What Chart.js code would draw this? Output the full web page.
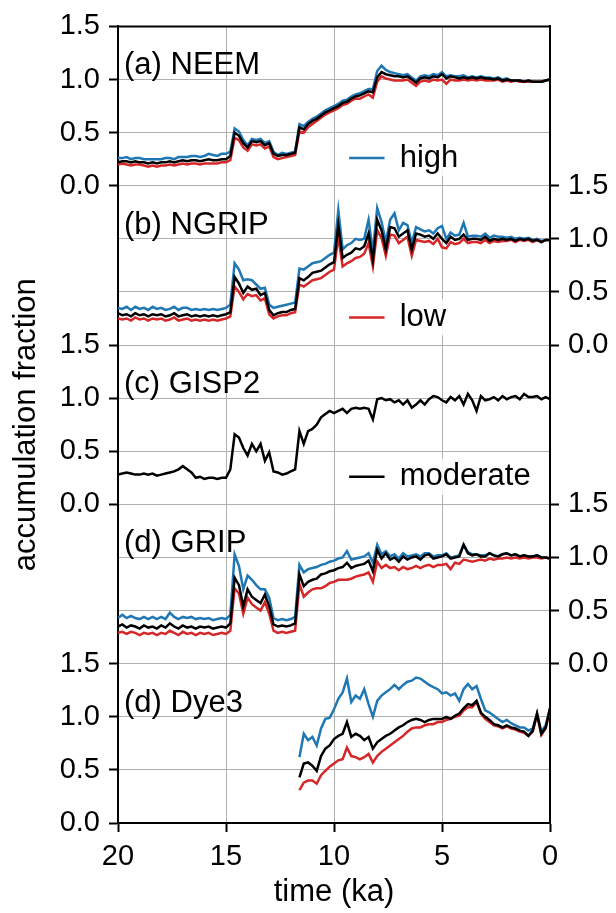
<!DOCTYPE html>
<html>
<head>
<meta charset="utf-8">
<script src="https://cdn.jsdelivr.net/npm/chart.js@4.4.1/dist/chart.umd.min.js"></script>
<style>
  body { margin: 0; background: #fff; }
</style>
</head>
<body>
<canvas id="acc-chart" width="616" height="913"></canvas>
<script>
// time axis (ka), 0.2 ka steps
var time = [20.0, 19.8, 19.6, 19.4, 19.2, 19.0, 18.8, 18.6, 18.4, 18.2,
    18.0, 17.8, 17.6, 17.4, 17.2, 17.0, 16.8, 16.6, 16.4, 16.2,
    16.0, 15.8, 15.6, 15.4, 15.2, 15.0, 14.8, 14.6, 14.4, 14.2,
    14.0, 13.8, 13.6, 13.4, 13.2, 13.0, 12.8, 12.6, 12.4, 12.2,
    12.0, 11.8, 11.6, 11.4, 11.2, 11.0, 10.8, 10.6, 10.4, 10.2,
    10.0, 9.8, 9.6, 9.4, 9.2, 9.0, 8.8, 8.6, 8.4, 8.2,
    8.0, 7.8, 7.6, 7.4, 7.2, 7.0, 6.8, 6.6, 6.4, 6.2,
    6.0, 5.8, 5.6, 5.4, 5.2, 5.0, 4.8, 4.6, 4.4, 4.2,
    4.0, 3.8, 3.6, 3.4, 3.2, 3.0, 2.8, 2.6, 2.4, 2.2,
    2.0, 1.8, 1.6, 1.4, 1.2, 1.0, 0.8, 0.6, 0.4, 0.2,
    0.0];

var xTicks = [20, 15, 10, 5, 0];

var neemHigh = [0.26, 0.26, 0.27, 0.25, 0.26, 0.26, 0.25, 0.25, 0.25, 0.25,
    0.25, 0.26, 0.26, 0.25, 0.27, 0.27, 0.27, 0.28, 0.28, 0.27,
    0.28, 0.30, 0.29, 0.28, 0.30, 0.30, 0.32, 0.54, 0.51, 0.43,
    0.38, 0.44, 0.43, 0.44, 0.40, 0.42, 0.32, 0.29, 0.31, 0.30,
    0.31, 0.32, 0.58, 0.56, 0.60, 0.63, 0.65, 0.68, 0.71, 0.73,
    0.75, 0.77, 0.80, 0.81, 0.84, 0.86, 0.87, 0.89, 0.91, 0.91,
    1.08, 1.13, 1.09, 1.07, 1.06, 1.05, 1.04, 1.05, 1.02, 0.99,
    1.03, 1.04, 1.03, 1.05, 1.04, 1.07, 1.03, 1.04, 1.03, 1.03,
    1.04, 1.02, 1.03, 1.02, 1.03, 1.02, 1.02, 1.01, 1.02, 1.00,
    1.01, 0.99, 0.99, 0.99, 0.98, 0.99, 0.98, 0.98, 0.98, 0.99,
    1.00];
var neemLow = [0.20, 0.21, 0.20, 0.19, 0.20, 0.20, 0.19, 0.18, 0.19, 0.18,
    0.19, 0.19, 0.20, 0.19, 0.20, 0.21, 0.20, 0.21, 0.21, 0.20,
    0.21, 0.21, 0.21, 0.21, 0.22, 0.22, 0.24, 0.45, 0.43, 0.36,
    0.33, 0.39, 0.38, 0.39, 0.35, 0.37, 0.27, 0.25, 0.26, 0.27,
    0.28, 0.29, 0.51, 0.50, 0.55, 0.58, 0.61, 0.64, 0.67, 0.69,
    0.71, 0.73, 0.76, 0.77, 0.80, 0.82, 0.82, 0.84, 0.86, 0.83,
    0.98, 1.03, 1.01, 1.00, 0.99, 0.99, 0.99, 1.00, 0.97, 0.94,
    0.98, 0.99, 0.98, 1.00, 0.99, 1.00, 0.96, 1.00, 0.99, 0.99,
    1.00, 0.99, 1.00, 0.99, 1.00, 0.99, 0.99, 0.99, 1.00, 0.98,
    0.99, 0.98, 0.99, 0.98, 0.98, 0.98, 0.98, 0.98, 0.98, 0.99,
    1.00];
var neemModerate = [0.22, 0.23, 0.23, 0.22, 0.23, 0.22, 0.22, 0.21, 0.22, 0.21,
    0.22, 0.22, 0.23, 0.22, 0.23, 0.24, 0.23, 0.24, 0.24, 0.23,
    0.24, 0.25, 0.24, 0.24, 0.25, 0.25, 0.28, 0.50, 0.47, 0.40,
    0.36, 0.42, 0.41, 0.42, 0.38, 0.40, 0.30, 0.28, 0.29, 0.29,
    0.30, 0.31, 0.55, 0.53, 0.58, 0.61, 0.63, 0.66, 0.69, 0.71,
    0.73, 0.75, 0.78, 0.79, 0.82, 0.84, 0.85, 0.87, 0.89, 0.88,
    1.02, 1.07, 1.05, 1.04, 1.03, 1.03, 1.02, 1.03, 1.00, 0.97,
    1.01, 1.02, 1.01, 1.03, 1.02, 1.05, 1.01, 1.03, 1.02, 1.01,
    1.02, 1.01, 1.02, 1.01, 1.02, 1.01, 1.01, 1.00, 1.01, 0.99,
    1.00, 0.99, 0.99, 0.99, 0.98, 0.99, 0.98, 0.98, 0.98, 0.99,
    1.00];

var ngripHigh = [0.35, 0.34, 0.36, 0.33, 0.36, 0.34, 0.35, 0.33, 0.36, 0.34,
    0.35, 0.33, 0.34, 0.36, 0.33, 0.35, 0.35, 0.33, 0.34, 0.33,
    0.34, 0.33, 0.34, 0.33, 0.34, 0.35, 0.38, 0.77, 0.71, 0.61,
    0.62, 0.61, 0.57, 0.53, 0.54, 0.38, 0.35, 0.36, 0.37, 0.38,
    0.39, 0.40, 0.72, 0.71, 0.74, 0.77, 0.78, 0.79, 0.82, 0.85,
    0.87, 1.27, 0.90, 0.94, 0.96, 1.00, 0.99, 1.00, 1.18, 0.88,
    1.29, 1.16, 0.97, 1.18, 1.24, 1.08, 1.15, 1.13, 0.96, 1.11,
    1.09, 1.07, 1.08, 1.05, 1.10, 1.12, 1.00, 1.06, 1.03, 1.04,
    1.15, 1.02, 1.03, 1.03, 1.02, 1.05, 1.01, 1.03, 1.02, 1.02,
    1.01, 1.02, 1.00, 1.01, 1.00, 1.01, 0.99, 1.00, 0.98, 0.99,
    0.99];
var ngripLow = [0.25, 0.24, 0.25, 0.23, 0.26, 0.24, 0.25, 0.23, 0.25, 0.24,
    0.25, 0.23, 0.24, 0.26, 0.23, 0.24, 0.25, 0.23, 0.24, 0.23,
    0.24, 0.23, 0.24, 0.23, 0.24, 0.25, 0.27, 0.55, 0.50, 0.43,
    0.48, 0.46, 0.47, 0.42, 0.44, 0.29, 0.25, 0.27, 0.28, 0.28,
    0.30, 0.31, 0.57, 0.55, 0.58, 0.61, 0.62, 0.63, 0.66, 0.69,
    0.71, 1.02, 0.74, 0.77, 0.79, 0.82, 0.83, 0.86, 0.96, 0.74,
    1.08, 1.01, 0.84, 1.04, 1.03, 0.96, 0.99, 1.02, 0.84, 0.99,
    0.98, 0.97, 0.98, 0.95, 1.00, 0.92, 0.91, 0.97, 0.95, 0.96,
    1.00, 0.96, 0.97, 0.97, 0.96, 0.99, 0.96, 0.98, 0.97, 0.98,
    0.98, 0.99, 0.97, 0.99, 0.98, 0.99, 0.97, 0.99, 0.97, 0.99,
    0.99];
var ngripModerate = [0.30, 0.28, 0.29, 0.27, 0.30, 0.28, 0.29, 0.27, 0.29, 0.28,
    0.29, 0.27, 0.28, 0.30, 0.27, 0.28, 0.29, 0.27, 0.28, 0.27,
    0.28, 0.27, 0.28, 0.27, 0.28, 0.29, 0.31, 0.64, 0.58, 0.49,
    0.55, 0.52, 0.53, 0.47, 0.49, 0.33, 0.28, 0.30, 0.31, 0.31,
    0.33, 0.34, 0.63, 0.61, 0.64, 0.68, 0.69, 0.70, 0.73, 0.76,
    0.78, 1.13, 0.82, 0.85, 0.87, 0.91, 0.90, 0.93, 1.05, 0.80,
    1.18, 1.08, 0.90, 1.11, 1.10, 1.02, 1.05, 1.08, 0.90, 1.05,
    1.04, 1.02, 1.03, 1.00, 1.05, 1.00, 0.96, 1.02, 0.99, 1.00,
    1.04, 0.99, 1.00, 1.00, 0.99, 1.02, 0.98, 1.00, 0.99, 1.00,
    0.99, 1.00, 0.98, 1.00, 0.99, 1.00, 0.98, 0.99, 0.97, 0.99,
    0.99];

var gisp2Moderate = [0.28, 0.29, 0.30, 0.29, 0.28, 0.28, 0.29, 0.28, 0.29, 0.27,
    0.28, 0.29, 0.30, 0.31, 0.33, 0.36, 0.33, 0.30, 0.25, 0.26,
    0.24, 0.25, 0.25, 0.24, 0.25, 0.25, 0.33, 0.66, 0.63, 0.53,
    0.46, 0.57, 0.50, 0.57, 0.41, 0.49, 0.31, 0.30, 0.28, 0.29,
    0.31, 0.33, 0.69, 0.57, 0.69, 0.71, 0.75, 0.82, 0.85, 0.88,
    0.86, 0.88, 0.90, 0.86, 0.90, 0.91, 0.90, 0.91, 0.90, 0.80,
    0.99, 1.00, 0.98, 0.99, 0.96, 0.98, 0.94, 0.98, 0.91, 0.94,
    0.98, 0.94, 0.99, 1.02, 1.01, 0.98, 0.96, 1.01, 0.98, 1.02,
    0.94, 1.04, 0.98, 0.88, 1.02, 0.98, 0.99, 1.01, 0.98, 1.02,
    0.99, 1.01, 1.02, 0.99, 1.04, 1.01, 1.01, 1.02, 0.99, 1.01,
    0.99];

var gripHigh = [0.43, 0.46, 0.43, 0.45, 0.43, 0.42, 0.44, 0.42, 0.44, 0.42,
    0.44, 0.42, 0.48, 0.44, 0.42, 0.44, 0.43, 0.44, 0.42, 0.43,
    0.42, 0.43, 0.41, 0.42, 0.43, 0.42, 0.46, 1.03, 0.92, 0.70,
    0.83, 0.79, 0.74, 0.70, 0.70, 0.62, 0.43, 0.41, 0.42, 0.41,
    0.42, 0.44, 0.93, 0.86, 0.89, 0.90, 0.91, 0.93, 0.94, 0.96,
    0.97, 0.99, 1.00, 1.06, 0.98, 0.99, 1.00, 1.01, 1.04, 0.95,
    1.12, 1.03, 1.06, 1.01, 1.03, 0.99, 1.04, 1.01, 1.02, 1.03,
    1.01, 1.04, 1.04, 1.01, 1.02, 1.02, 1.04, 1.00, 1.01, 1.02,
    1.12, 1.05, 1.03, 1.03, 1.02, 1.02, 1.04, 1.02, 1.01, 1.03,
    1.04, 1.02, 1.03, 1.01, 1.02, 1.01, 1.01, 1.02, 1.00, 1.00,
    0.99];
var gripLow = [0.29, 0.30, 0.28, 0.30, 0.29, 0.27, 0.29, 0.28, 0.29, 0.27,
    0.29, 0.28, 0.31, 0.29, 0.27, 0.30, 0.28, 0.29, 0.27, 0.29,
    0.28, 0.29, 0.27, 0.28, 0.29, 0.28, 0.31, 0.71, 0.66, 0.47,
    0.62, 0.56, 0.53, 0.50, 0.58, 0.47, 0.31, 0.29, 0.30, 0.29,
    0.30, 0.31, 0.75, 0.63, 0.67, 0.70, 0.71, 0.71, 0.73, 0.76,
    0.77, 0.79, 0.79, 0.79, 0.80, 0.82, 0.83, 0.84, 0.86, 0.77,
    0.96, 0.90, 0.93, 0.90, 0.91, 0.88, 0.91, 0.89, 0.90, 0.92,
    0.90, 0.92, 0.93, 0.91, 0.93, 0.93, 0.94, 0.89, 0.95, 0.94,
    0.98, 0.97, 0.96, 0.97, 0.98, 0.97, 0.99, 0.98, 0.99, 0.99,
    1.00, 0.99, 1.00, 0.99, 1.00, 0.99, 1.00, 1.00, 0.99, 1.00,
    0.99];
var gripModerate = [0.35, 0.37, 0.34, 0.36, 0.35, 0.33, 0.36, 0.34, 0.35, 0.33,
    0.36, 0.34, 0.38, 0.35, 0.33, 0.36, 0.34, 0.35, 0.33, 0.35,
    0.34, 0.35, 0.33, 0.34, 0.35, 0.34, 0.38, 0.81, 0.74, 0.54,
    0.70, 0.63, 0.60, 0.57, 0.65, 0.54, 0.37, 0.35, 0.36, 0.35,
    0.36, 0.38, 0.84, 0.73, 0.77, 0.79, 0.80, 0.84, 0.85, 0.87,
    0.88, 0.90, 0.91, 0.95, 0.90, 0.92, 0.93, 0.94, 0.97, 0.87,
    1.07, 0.99, 1.04, 0.98, 1.00, 0.96, 1.01, 0.98, 1.00, 1.01,
    0.98, 1.02, 1.03, 0.99, 1.00, 1.01, 1.03, 0.99, 1.00, 1.01,
    1.12, 1.04, 1.02, 1.03, 1.01, 1.01, 1.04, 1.02, 1.01, 1.03,
    1.04, 1.02, 1.03, 1.01, 1.02, 1.01, 1.01, 1.02, 1.00, 1.00,
    0.99];

// Dye3 record starts at 11.6 ka (last 59 time steps)
var dye3High = [0.62, 0.84, 0.78, 0.81, 0.73, 0.89, 0.98, 0.99, 1.07, 1.17,
    1.23, 1.36, 1.14, 1.20, 1.17, 1.26, 1.12, 1.00, 1.15, 1.20,
    1.23, 1.26, 1.30, 1.26, 1.30, 1.33, 1.34, 1.37, 1.36, 1.33,
    1.30, 1.28, 1.26, 1.22, 1.23, 1.20, 1.22, 1.15, 1.26, 1.31,
    1.26, 1.29, 1.17, 1.06, 1.04, 1.01, 0.98, 0.95, 0.97, 0.94,
    0.92, 0.90, 0.90, 0.87, 0.89, 1.03, 0.86, 0.92, 1.08];
var dye3Low = [0.31, 0.38, 0.40, 0.40, 0.37, 0.45, 0.49, 0.53, 0.56, 0.59,
    0.60, 0.71, 0.63, 0.62, 0.60, 0.62, 0.65, 0.57, 0.63, 0.67,
    0.70, 0.73, 0.76, 0.79, 0.82, 0.86, 0.89, 0.90, 0.90, 0.92,
    0.93, 0.93, 0.95, 0.95, 0.97, 0.98, 1.00, 1.01, 1.06, 1.09,
    1.09, 1.14, 1.03, 0.98, 0.95, 0.92, 0.91, 0.89, 0.91, 0.89,
    0.88, 0.86, 0.85, 0.82, 0.86, 1.02, 0.83, 0.89, 1.07];
var dye3Moderate = [0.43, 0.56, 0.57, 0.54, 0.49, 0.63, 0.70, 0.73, 0.79, 0.82,
    0.84, 0.95, 0.81, 0.84, 0.82, 0.78, 0.81, 0.70, 0.76, 0.79,
    0.82, 0.84, 0.87, 0.90, 0.92, 0.95, 0.97, 0.98, 0.97, 0.95,
    0.97, 0.98, 0.98, 0.98, 1.00, 0.98, 1.01, 1.03, 1.08, 1.12,
    1.11, 1.15, 1.04, 1.00, 0.97, 0.93, 0.92, 0.90, 0.92, 0.90,
    0.89, 0.87, 0.86, 0.82, 0.87, 1.03, 0.84, 0.90, 1.08];

var panels = [
    { name: '(a) NEEM', base: 6.0, high: neemHigh, low: neemLow, moderate: neemModerate },
    { name: '(b) NGRIP', base: 4.5, high: ngripHigh, low: ngripLow, moderate: ngripModerate },
    { name: '(c) GISP2', base: 3.0, high: null, low: null, moderate: gisp2Moderate },
    { name: '(d) GRIP', base: 1.5, high: gripHigh, low: gripLow, moderate: gripModerate },
    { name: '(d) Dye3', base: 0.0, high: dye3High, low: dye3Low, moderate: dye3Moderate }
];

var colors = { high: '#1f77b4', low: '#d62728', moderate: '#000000' };
var drawOrder = { moderate: 0, low: 1, high: 2 };
var legendItems = [
    { label: 'high', kind: 'high', base: 6.0 },
    { label: 'low', kind: 'low', base: 4.5 },
    { label: 'moderate', kind: 'moderate', base: 3.0 }
];

var FONT = '"Liberation Sans", Arial, Helvetica, sans-serif';

function toPoints(values, base) {
    var start = time.length - values.length;
    return values.map(function (v, i) {
        return { x: time[start + i], y: v + base };
    });
}

var datasets = [];
panels.forEach(function (p) {
    ['high', 'low', 'moderate'].forEach(function (kind) {
        if (!p[kind]) return;
        datasets.push({
            label: p.name + ' ' + kind,
            data: toPoints(p[kind], p.base),
            yAxisID: 'yL',
            borderColor: colors[kind],
            borderWidth: 2.5,
            pointRadius: 0,
            tension: 0,
            fill: false,
            order: drawOrder[kind]
        });
    });
});

function snap(v) { return Math.round(v * 2) / 2; }
function leftBase(v) {
    if (v <= 1.5) return 0;
    if (v >= 3 && v <= 4.5) return 3;
    if (v >= 6) return 6;
    return null;
}
function rightBase(v) {
    if (v >= 1.5 && v <= 3) return 1.5;
    if (v >= 4.5 && v <= 6) return 4.5;
    return null;
}

var decorations = {
    id: 'decorations',
    afterDatasetsDraw: function (chart) {
        var ctx = chart.ctx, area = chart.chartArea;
        var xs = chart.scales.x, ys = chart.scales.yL;
        ctx.save();
        // top spine
        ctx.strokeStyle = '#000';
        ctx.lineWidth = 2;
        ctx.beginPath();
        ctx.moveTo(area.left, area.top);
        ctx.lineTo(area.right, area.top);
        ctx.stroke();

        ctx.font = '31px ' + FONT;
        ctx.fillStyle = '#000';
        ctx.textBaseline = 'middle';
        ctx.textAlign = 'left';
        panels.forEach(function (p) {
            ctx.fillText(p.name, xs.getPixelForValue(19.72), ys.getPixelForValue(p.base + 1.13));
        });

        legendItems.forEach(function (it) {
            var yy = ys.getPixelForValue(it.base + 0.26);
            var x0 = xs.getPixelForValue(9.75), x1 = xs.getPixelForValue(0.15);
            ctx.fillStyle = 'rgba(255,255,255,0.85)';
            ctx.fillRect(x0, yy - 18, x1 - x0, 36);
            ctx.strokeStyle = colors[it.kind];
            ctx.lineWidth = 2.5;
            ctx.beginPath();
            ctx.moveTo(xs.getPixelForValue(9.3), yy);
            ctx.lineTo(xs.getPixelForValue(7.66), yy);
            ctx.stroke();
            ctx.fillStyle = '#000';
            ctx.fillText(it.label, xs.getPixelForValue(6.96), yy);
        });
        ctx.restore();
    }
};

var ctx = document.getElementById('acc-chart');

var myChart = new Chart(ctx, {
    type: 'line',
    data: { datasets: datasets },
    plugins: [decorations],
    options: {
        responsive: false,
        animation: false,
        layout: { padding: { top: 26, left: 0, right: 0, bottom: 0 } },
        plugins: { legend: { display: false }, tooltip: { enabled: false } },
        scales: {
            x: {
                type: 'linear',
                position: 'bottom',
                min: 0,
                max: 20,
                reverse: true,
                afterBuildTicks: function (scale) {
                    scale.ticks = xTicks.map(function (v) { return { value: v }; });
                },
                afterFit: function (scale) { scale.height = 90; },
                ticks: {
                    color: '#000',
                    font: { family: FONT, size: 29 },
                    padding: 8,
                    autoSkip: false,
                    maxRotation: 0,
                    callback: function (v) { return String(v); }
                },
                grid: { color: '#b0b0b0', lineWidth: 1, tickColor: '#000', tickLength: 9, tickWidth: 2 },
                border: { color: '#000', width: 2 },
                title: {
                    display: true,
                    text: 'time (ka)',
                    color: '#000',
                    font: { family: FONT, size: 31 },
                    padding: { top: 0, bottom: 2 }
                }
            },
            yL: {
                type: 'linear',
                position: 'left',
                min: 0,
                max: 7.5,
                afterFit: function (scale) { scale.width = 118; },
                ticks: {
                    stepSize: 0.5,
                    color: '#000',
                    font: { family: FONT, size: 29 },
                    padding: 9,
                    autoSkip: false,
                    callback: function (value) {
                        var v = snap(value), b = leftBase(v);
                        return b === null ? '' : (v - b).toFixed(1);
                    }
                },
                grid: {
                    color: '#b0b0b0',
                    lineWidth: 1,
                    tickLength: 9,
                    tickWidth: 2,
                    tickColor: function (c) {
                        return leftBase(snap(c.tick.value)) === null ? 'rgba(0,0,0,0)' : '#000';
                    }
                },
                border: { color: '#000', width: 2 },
                title: {
                    display: true,
                    text: 'accumulation fraction',
                    color: '#000',
                    font: { family: FONT, size: 31 },
                    padding: { top: 8, bottom: 0 }
                }
            },
            yR: {
                type: 'linear',
                position: 'right',
                min: 0,
                max: 7.5,
                afterFit: function (scale) { scale.width = 66; },
                ticks: {
                    stepSize: 0.5,
                    color: '#000',
                    font: { family: FONT, size: 29 },
                    padding: 9,
                    autoSkip: false,
                    callback: function (value) {
                        var v = snap(value), b = rightBase(v);
                        return b === null ? '' : (v - b).toFixed(1);
                    }
                },
                grid: {
                    drawOnChartArea: false,
                    tickLength: 9,
                    tickWidth: 2,
                    tickColor: function (c) {
                        return rightBase(snap(c.tick.value)) === null ? 'rgba(0,0,0,0)' : '#000';
                    }
                },
                border: { color: '#000', width: 2 }
            }
        }
    }
});
</script>
</body>
</html>
